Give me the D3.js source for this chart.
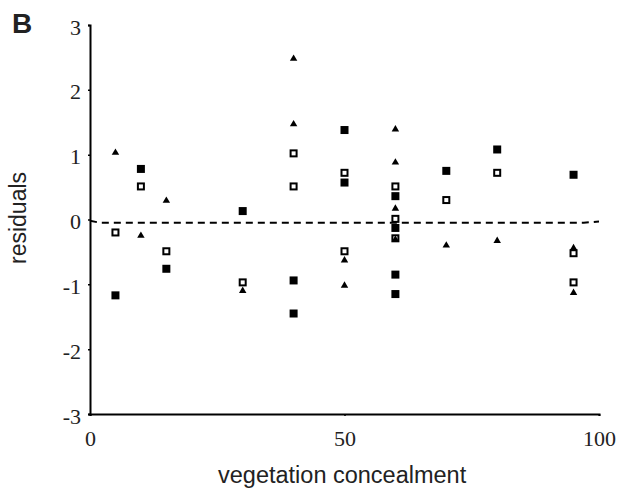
<!DOCTYPE html>
<html>
<head>
<meta charset="utf-8">
<script src="https://cdn.jsdelivr.net/npm/d3@7"></script>
<style>
  body { margin: 0; background: #fff; }
</style>
</head>
<body>
<div id="chart"></div>
<script>
// filled squares
var filledX = [5, 10, 15, 30, 40, 40, 50, 50, 60, 60, 60, 60, 70, 80, 95];
var filledY = [-1.17, 0.78, -0.76, 0.13, -0.94, -1.45, 1.38, 0.57, 0.36, -0.13, -0.85, -1.15, 0.75, 1.08, 0.69];

// open squares
var openX = [5, 10, 15, 30, 40, 40, 50, 50, 60, 60, 60, 70, 80, 95, 95];
var openY = [-0.2, 0.51, -0.49, -0.97, 1.02, 0.51, 0.72, -0.49, 0.51, 0.01, -0.29, 0.30, 0.72, -0.97, -0.52];

// triangles
var triX = [5, 10, 15, 30, 40, 40, 50, 50, 60, 60, 60, 60, 70, 80, 95, 95];
var triY = [1.03, -0.25, 0.29, -1.1, 2.48, 1.47, -0.63, -1.02, 1.39, 0.88, 0.17, -0.31, -0.40, -0.33, -1.13, -0.44];

// dashed fit line
var fitX = [0, 2, 97, 100];
var fitY = [-0.02, -0.05, -0.05, -0.03];

var xTicks = [0, 50, 100];
var yTicks = [-3, -2, -1, 0, 1, 2, 3];

var margin = {top: 25, right: 23, bottom: 82, left: 90},
  width = 622 - margin.left - margin.right,
  height = 496 - margin.top - margin.bottom;

var svg = d3.select("#chart")
  .append("svg")
    .attr("width", 622)
    .attr("height", 496);

var g = svg.append("g")
    .attr("transform", "translate(" + margin.left + "," + margin.top + ")");

var x = d3.scaleLinear().domain([0, 100]).range([0, width]);
var y = d3.scaleLinear().domain([-3, 3]).range([height, 0]);

var fmt = function(d) { return String(d); };

// axes
var xAxis = g.append("g")
    .attr("transform", "translate(0," + height + ")")
    .call(d3.axisBottom(x).tickValues(xTicks).tickFormat(fmt).tickSize(2).tickPadding(14));
var yAxis = g.append("g")
    .call(d3.axisLeft(y).tickValues(yTicks).tickFormat(fmt).tickSize(2).tickPadding(7));

[xAxis, yAxis].forEach(function(a) {
  a.attr("font-family", "serif").attr("font-size", 22);
  a.select(".domain").attr("stroke-width", 2).attr("stroke", "#000");
  a.selectAll(".tick line").attr("stroke-width", 1.5);
  a.selectAll(".tick text").attr("fill", "#222");
});
yAxis.selectAll(".tick text").attr("dy", "0.32em").attr("y", 2);

// dashed line
var line = d3.line()
  .x(function(d) { return x(d[0]); })
  .y(function(d) { return y(d[1]); });

g.append("path")
  .datum(d3.zip(fitX, fitY))
  .attr("fill", "none")
  .attr("stroke", "#000")
  .attr("stroke-width", 2)
  .attr("stroke-dasharray", "7,5")
  .attr("d", line);

// filled squares
g.selectAll(".fsq")
  .data(d3.zip(filledX, filledY))
  .enter().append("rect")
    .attr("class", "fsq")
    .attr("x", function(d) { return x(d[0]) - 4; })
    .attr("y", function(d) { return y(d[1]) - 4; })
    .attr("width", 8)
    .attr("height", 8)
    .attr("fill", "#000");

// open squares
g.selectAll(".osq")
  .data(d3.zip(openX, openY))
  .enter().append("rect")
    .attr("class", "osq")
    .attr("x", function(d) { return x(d[0]) - 3; })
    .attr("y", function(d) { return y(d[1]) - 3; })
    .attr("width", 6)
    .attr("height", 6)
    .attr("fill", "#fff")
    .attr("stroke", "#000")
    .attr("stroke-width", 2);

// triangles
var tri = d3.symbol().type(d3.symbolTriangle).size(24);
g.selectAll(".tri")
  .data(d3.zip(triX, triY))
  .enter().append("path")
    .attr("class", "tri")
    .attr("transform", function(d) { return "translate(" + x(d[0]) + "," + y(d[1]) + ")"; })
    .attr("d", tri)
    .attr("fill", "#000");

// labels
svg.append("text")
  .attr("x", 218)
  .attr("y", 483)
  .attr("font-family", "Liberation Sans, Arial, sans-serif")
  .attr("font-size", 23.5)
  .attr("fill", "#222")
  .text("vegetation concealment");

svg.append("text")
  .attr("transform", "translate(26,218) rotate(-90)")
  .attr("text-anchor", "middle")
  .attr("font-family", "Liberation Sans, Arial, sans-serif")
  .attr("font-size", 23)
  .attr("fill", "#222")
  .text("residuals");

svg.append("text")
  .attr("x", 12)
  .attr("y", 33)
  .attr("font-family", "Liberation Sans, Arial, sans-serif")
  .attr("font-weight", "bold")
  .attr("font-size", 28)
  .attr("fill", "#222")
  .text("B");
</script>
</body>
</html>
